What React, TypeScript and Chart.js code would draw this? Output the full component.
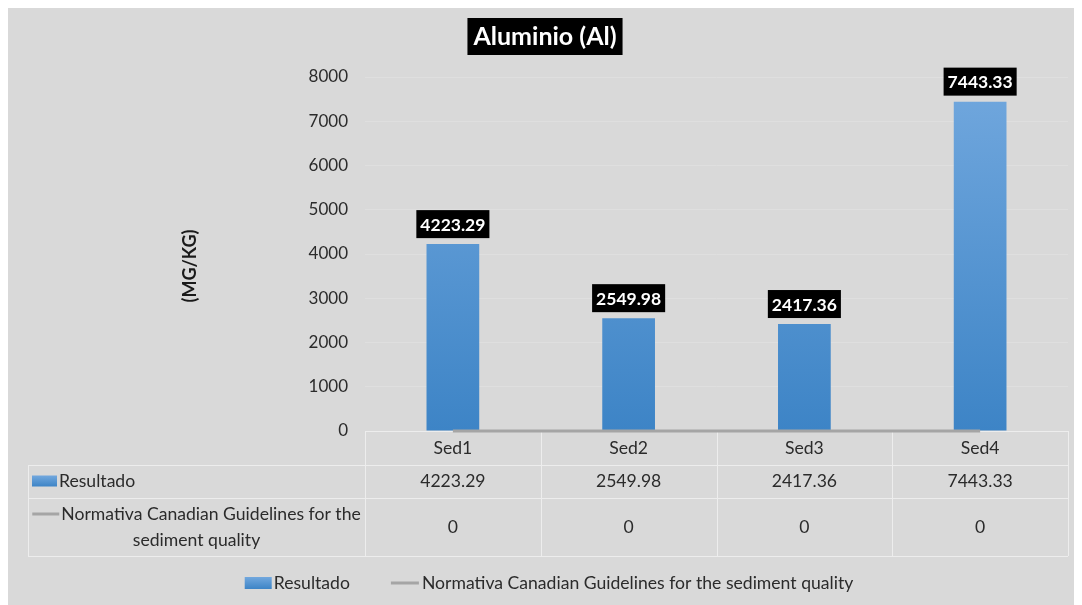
import React, { useEffect, useRef } from "react";
import { Chart, registerables } from "chart.js";

Chart.register(...registerables);

const categories = ["Sed1", "Sed2", "Sed3", "Sed4"];
const resultado = [4223.29, 2549.98, 2417.36, 7443.33];
const normativa = [0, 0, 0, 0];
const yMin = 0;
const yMax = 8000;
const yStep = 1000;
const chartTitle = "Aluminio (Al)";
const yAxisTitle = "(MG/KG)";
const seriesNames = ["Resultado", "Normativa Canadian Guidelines for the sediment quality"];
const normativaWrapped = ["Normativa Canadian Guidelines for the", "sediment quality"];

const W = 1074;
const H = 597;
const FONT = "Lato, 'Open Sans', sans-serif";
const TEXT = "#2b2b2b";
const BG = "#d9d9d9";
const TABLE_LINE = "#ededed";
const GRAY_LINE = "#a5a5a5";
const ROWS = [423, 457, 490, 548];
const TABLE_FONT = 17.6;

function blueGradient(ctx: CanvasRenderingContext2D, top: number, bottom: number) {
  const g = ctx.createLinearGradient(0, top, 0, bottom);
  g.addColorStop(0, "#72a8de");
  g.addColorStop(1, "#3d84c6");
  return g;
}

const overlay = {
  id: "overlay",
  beforeDraw(chart: any) {
    const ctx = chart.ctx;
    ctx.save();
    ctx.fillStyle = BG;
    ctx.fillRect(0, 0, W, H);
    ctx.restore();
  },
  beforeDatasetsDraw(chart: any) {
    const ctx: CanvasRenderingContext2D = chart.ctx;
    const area = chart.chartArea;
    const rows = ROWS;
    const tableLeft = 20;
    const colW = (area.right - area.left) / categories.length;
    ctx.save();
    ctx.strokeStyle = TABLE_LINE;
    ctx.lineWidth = 1;
    ctx.beginPath();
    ctx.moveTo(area.left, rows[0] + 0.5);
    ctx.lineTo(area.right, rows[0] + 0.5);
    for (let r = 1; r < rows.length; r++) {
      ctx.moveTo(tableLeft, rows[r] + 0.5);
      ctx.lineTo(area.right, rows[r] + 0.5);
    }
    for (let c = 0; c <= categories.length; c++) {
      const x = Math.round(area.left + c * colW) + 0.5;
      ctx.moveTo(x, rows[0]);
      ctx.lineTo(x, rows[3]);
    }
    ctx.moveTo(tableLeft + 0.5, rows[1]);
    ctx.lineTo(tableLeft + 0.5, rows[3]);
    ctx.stroke();
    ctx.restore();
  },
  afterDraw(chart: any) {
    const ctx: CanvasRenderingContext2D = chart.ctx;
    const area = chart.chartArea;
    const xs = chart.scales.x;
    const rows = ROWS;
    const tableLeft = 20;
    ctx.save();

    // Title
    ctx.font = `bold 25px ${FONT}`;
    const tw = ctx.measureText(chartTitle).width;
    const tcx = W / 2;
    ctx.fillStyle = "#000";
    ctx.fillRect(tcx - tw / 2 - 6, 10, tw + 12, 37);
    ctx.fillStyle = "#fff";
    ctx.textAlign = "center";
    ctx.textBaseline = "middle";
    ctx.fillText(chartTitle, tcx, 29);

    // Y axis title
    ctx.save();
    ctx.translate(182, 258);
    ctx.rotate(-Math.PI / 2);
    ctx.font = `bold 18px ${FONT}`;
    ctx.fillStyle = "#1a1a1a";
    ctx.fillText(yAxisTitle, 0, 0);
    ctx.restore();

    // Data labels
    const meta = chart.getDatasetMeta(0);
    ctx.font = `bold 17.5px ${FONT}`;
    meta.data.forEach((el: any, i: number) => {
      const label = resultado[i].toFixed(2);
      const w = ctx.measureText(label).width + 8;
      const h = 28;
      const bottom = el.y - 6;
      ctx.fillStyle = "#000";
      ctx.fillRect(el.x - w / 2, bottom - h, w, h);
      ctx.fillStyle = "#fff";
      ctx.textAlign = "center";
      ctx.textBaseline = "middle";
      ctx.fillText(label, el.x, bottom - h / 2 + 1);
    });

    // Data table text
    ctx.font = `${TABLE_FONT}px ${FONT}`;
    ctx.fillStyle = TEXT;
    ctx.textAlign = "center";
    ctx.textBaseline = "middle";
    categories.forEach((c, i) => {
      const x = xs.getPixelForValue(i);
      ctx.fillText(c, x, (rows[0] + rows[1]) / 2);
      ctx.fillText(resultado[i].toFixed(2), x, (rows[1] + rows[2]) / 2);
      ctx.fillText(String(normativa[i]), x, (rows[2] + rows[3]) / 2);
    });

    const r1y = (rows[1] + rows[2]) / 2;
    ctx.fillStyle = blueGradient(ctx, r1y - 6, r1y + 5);
    ctx.fillRect(24, r1y - 6, 25, 11);
    ctx.fillStyle = TEXT;
    ctx.textAlign = "left";
    ctx.fillText(seriesNames[0], 51, r1y);

    const l1 = rows[2] + 16;
    const l2 = rows[2] + 42;
    const w1 = ctx.measureText(normativaWrapped[0]).width;
    const cellCx = (tableLeft + area.left) / 2;
    const startX = cellCx - (w1 + 29) / 2;
    ctx.strokeStyle = GRAY_LINE;
    ctx.lineWidth = 3;
    ctx.beginPath();
    ctx.moveTo(startX, l1);
    ctx.lineTo(startX + 27, l1);
    ctx.stroke();
    ctx.fillText(normativaWrapped[0], startX + 29, l1);
    ctx.textAlign = "center";
    ctx.fillText(normativaWrapped[1], cellCx, l2);

    // Legend
    const ly = 575;
    const a = ctx.measureText(seriesNames[0]).width;
    const b = ctx.measureText(seriesNames[1]).width;
    const total = 27 + 2 + a + 41 + 28 + 3 + b;
    let x = W / 2 - total / 2 + 4;
    ctx.fillStyle = blueGradient(ctx, ly - 6, ly + 6);
    ctx.fillRect(x, ly - 6, 27, 12);
    x += 29;
    ctx.fillStyle = TEXT;
    ctx.textAlign = "left";
    ctx.fillText(seriesNames[0], x, ly);
    x += a + 41;
    ctx.strokeStyle = GRAY_LINE;
    ctx.lineWidth = 3;
    ctx.beginPath();
    ctx.moveTo(x, ly);
    ctx.lineTo(x + 28, ly);
    ctx.stroke();
    x += 31;
    ctx.fillText(seriesNames[1], x, ly);

    ctx.restore();
  },
};

export default function App() {
  const ref = useRef<HTMLCanvasElement | null>(null);
  useEffect(() => {
    document.documentElement.style.overflow = "hidden";
    document.body.style.overflow = "hidden";
    const canvas = ref.current;
    if (!canvas) return;
    const chart = new Chart(canvas, {
      type: "bar",
      data: {
        labels: categories,
        datasets: [
          {
            type: "bar",
            label: seriesNames[0],
            data: resultado,
            backgroundColor: (c: any) => {
              const area = c.chart.chartArea;
              if (!area) return "#4a90d2";
              return blueGradient(c.chart.ctx, area.top, area.bottom);
            },
            borderWidth: 0,
            categoryPercentage: 1,
            barPercentage: 0.3,
            order: 2,
          },
          {
            type: "line",
            label: seriesNames[1],
            data: normativa,
            borderColor: GRAY_LINE,
            borderWidth: 3,
            pointRadius: 0,
            fill: false,
            clip: false,
            order: 1,
          } as any,
        ],
      },
      options: {
        responsive: false,
        animation: false,
        layout: { padding: { top: 69, bottom: 174, right: 14, left: 0 } },
        plugins: {
          legend: { display: false },
          title: { display: false },
          tooltip: { enabled: false },
        },
        scales: {
          x: {
            display: false,
          },
          y: {
            min: yMin,
            max: yMax,
            ticks: {
              stepSize: yStep,
              padding: 17,
              color: TEXT,
              font: { family: FONT, size: 17 },
              callback: (v: any) => String(v),
            },
            border: { display: false },
            grid: { color: "#dfdfdf", drawTicks: false },
            afterFit: (s: any) => {
              s.width = 357;
            },
          },
        },
      },
      plugins: [overlay],
    });
    return () => chart.destroy();
  }, []);
  return <canvas ref={ref} width={W} height={H} style={{ display: "block", width: W, height: H }} />;
}
